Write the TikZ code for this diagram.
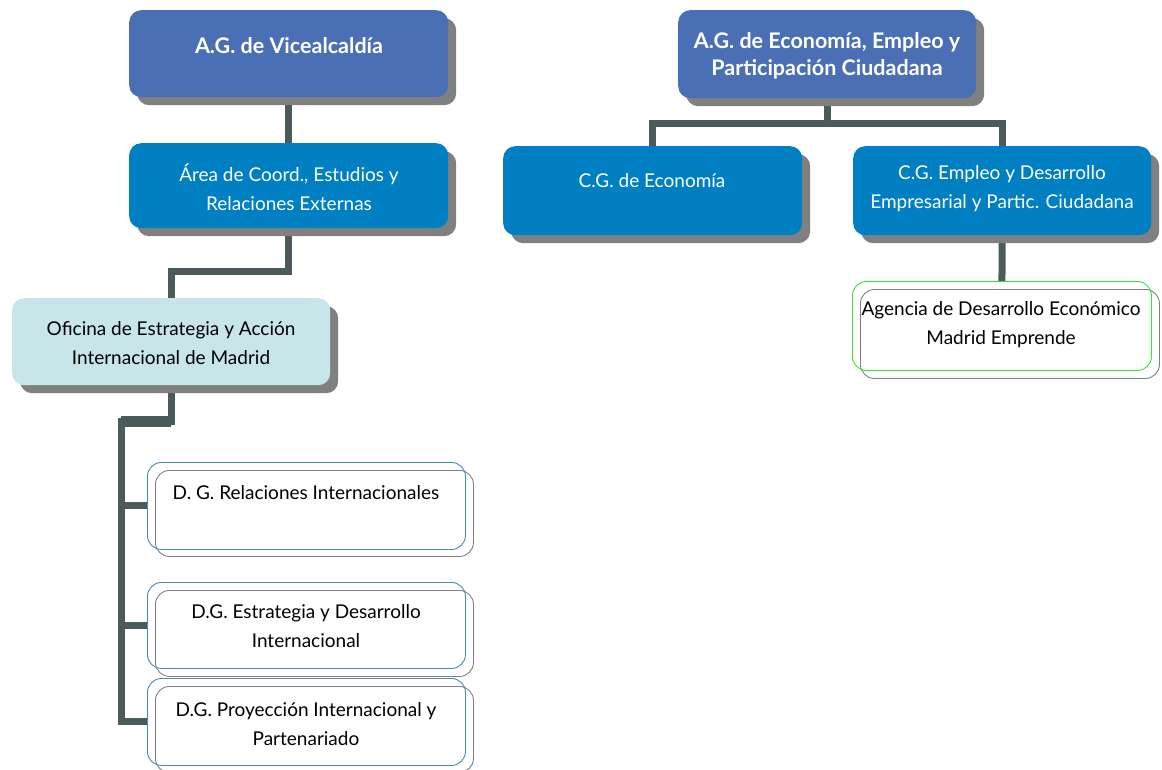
\documentclass[tikz,border=0pt]{standalone}
\usepackage{fontspec}
\setmainfont{Lato}
\usetikzlibrary{shadows,backgrounds}
\definecolor{topblue}{RGB}{74,111,181}
\definecolor{midblue}{RGB}{0,128,194}
\definecolor{paleteal}{RGB}{200,230,233}
\definecolor{shadowgray}{RGB}{128,128,128}
\definecolor{linkgray}{RGB}{75,90,90}
\definecolor{edgeblue}{RGB}{70,135,200}
\definecolor{edgegray}{RGB}{128,128,128}
\definecolor{edgegreen}{RGB}{50,230,50}
\begin{document}
\begin{tikzpicture}[x=1pt,y=-1pt,
  card/.style={rectangle, rounded corners=12pt, inner sep=0pt, anchor=north west},
  solidcard/.style={card, drop shadow={shadow xshift=8pt, shadow yshift=-8pt, fill=shadowgray, opacity=1}},
  outcard/.style={card, rounded corners=14pt, line width=0.9pt},
  link/.style={draw=linkgray, line width=7pt},
  txt/.style={align=center, inner sep=0pt, font=\fontsize{19}{29}\selectfont},
  boldtxt/.style={txt, font=\fontsize{21.5}{27}\selectfont\bfseries, text=white},
  wtxt/.style={txt, text=white}
]
\useasboundingbox (0,0) rectangle (1162,769);

% solid boxes with drop shadows
\node[solidcard, fill=topblue, minimum width=319pt, minimum height=87pt] (vice) at (129,10) {};
\node[solidcard, fill=midblue, minimum width=319pt, minimum height=85pt] (area) at (129,143) {};
\node[solidcard, fill=paleteal, minimum width=318pt, minimum height=87pt] (ofi) at (12,298) {};
\node[solidcard, fill=topblue, minimum width=298pt, minimum height=88pt] (econ) at (678,10) {};
\node[solidcard, fill=midblue, minimum width=299pt, minimum height=89pt] (cgeco) at (503,146) {};
\node[solidcard, fill=midblue, minimum width=298pt, minimum height=89pt] (cgemp) at (853,146) {};

% outlined boxes (double contour)
\node[outcard, draw=edgegray, minimum width=318pt, minimum height=86pt] (dgaback) at (155,470) {};
\node[outcard, draw=edgeblue, minimum width=318pt, minimum height=87pt] (dga) at (147,462) {};
\node[outcard, draw=edgegray, minimum width=318pt, minimum height=86pt] (dgbback) at (155,590) {};
\node[outcard, draw=edgeblue, minimum width=318pt, minimum height=86pt] (dgb) at (147,582) {};
\node[outcard, draw=edgegray, minimum width=318pt, minimum height=86pt] (dgcback) at (155,686) {};
\node[outcard, draw=edgeblue, minimum width=318pt, minimum height=87pt] (dgc) at (147,678) {};
\node[outcard, draw=edgegray, minimum width=299pt, minimum height=89pt] (ageback) at (860,289) {};
\node[outcard, draw=edgegreen, minimum width=299pt, minimum height=89pt] (age) at (852,281) {};

% labels
\node[boldtxt] (tvice) at (289,46) {A.G. de Vicealcaldía};
\node[wtxt] (tarea) at (289,187.5) {Área de Coord., Estudios y\\Relaciones Externas};
\node[txt] (tofi) at (171,343.5) {Oficina de Estrategia y Acción\\Internacional de Madrid};
\node[txt] (tdga) at (306,493) {D. G. Relaciones Internacionales};
\node[txt] (tdgb) at (306,626.5) {D.G. Estrategia y Desarrollo\\Internacional};
\node[txt] (tdgc) at (306,724.5) {D.G. Proyección Internacional y\\Partenariado};
\node[boldtxt] (tecon) at (827,55.5) {A.G. de Economía, Empleo y\\Participación Ciudadana};
\node[wtxt] (tcgeco) at (652,181) {C.G. de Economía};
\node[wtxt] (tcgemp) at (1002,189) {C.G. Empleo y Desarrollo\\Empresarial y Partic. Ciudadana};
\node[txt] (tage) at (1001,325) {Agencia de Desarrollo Económico\\Madrid Emprende};

\coordinate (trunk) at (121,421);

% connectors behind the boxes
\begin{scope}[on background layer]
  \draw[link] (vice.south) -- (area.north);
  \draw[link] (area.south) -- ++(0,43) -| (ofi.north);
  \draw[link] (ofi.south) |- (trunk) |- (dgc.west);
  \draw[draw=linkgray, line width=11pt] (ofi.south |- trunk) -- (trunk);
  \draw[link] (trunk |- dga.west) -- (dga.west);
  \draw[link] (trunk |- dgb.west) -- (dgb.west);
  \draw[link] (econ.south) -- ++(0,25) -| (cgeco.north);
  \draw[link] (econ.south) -- ++(0,25) -| (cgemp.north);
  \draw[link] (cgemp.south) -- (age.north);
\end{scope}
\end{tikzpicture}
\end{document}
